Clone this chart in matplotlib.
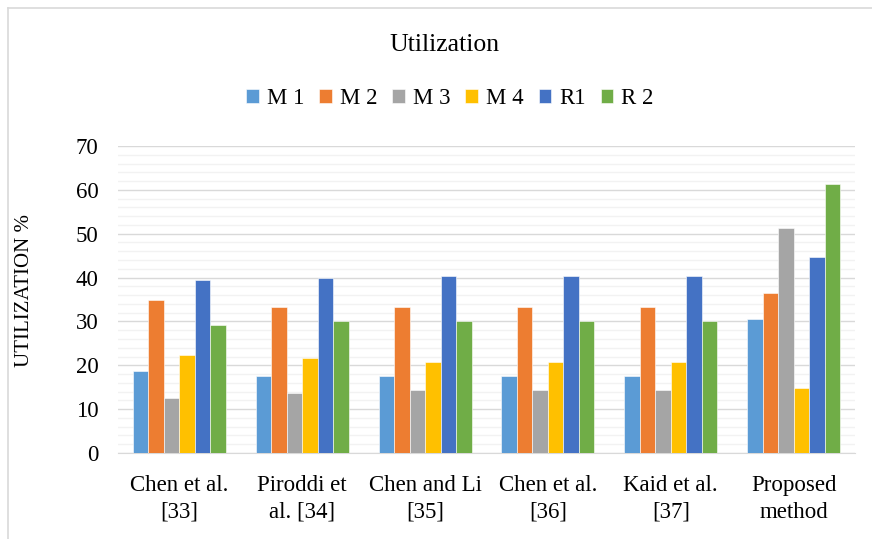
import numpy as np
import matplotlib.pyplot as plt
from matplotlib.lines import Line2D

plt.rcParams['font.family'] = ['Liberation Serif', 'DejaVu Serif']

categories = ['Chen et al.\n[33]', 'Piroddi et\nal. [34]', 'Chen and Li\n[35]',
              'Chen et al.\n[36]', 'Kaid et al.\n[37]', 'Proposed\nmethod']
series = ['M 1', 'M 2', 'M 3', 'M 4', 'R1', 'R 2']
m1 = [18.7, 17.6, 17.6, 17.6, 17.6, 30.5]
m2 = [34.9, 33.3, 33.3, 33.3, 33.3, 36.5]
m3 = [12.5, 13.7, 14.3, 14.3, 14.3, 51.2]
m4 = [22.4, 21.6, 20.8, 20.8, 20.8, 14.9]
r1 = [39.5, 39.9, 40.4, 40.4, 40.4, 44.6]
r2 = [29.2, 30.0, 30.0, 30.0, 30.0, 61.3]
values = [m1, m2, m3, m4, r1, r2]
colors = ['#5B9BD5', '#ED7D31', '#A5A5A5', '#FFC000', '#4472C4', '#70AD47']

fig = plt.figure(figsize=(8.72, 5.39), dpi=100)
ax = fig.add_axes([118 / 872, 1 - 453 / 539, 737 / 872, 307 / 539])

x = np.arange(len(categories))
w = 0.126
for i, (name, vals, c) in enumerate(zip(series, values, colors)):
    ax.bar(x + (i - 2.5) * w, vals, w, color=c, label=name,
           edgecolor='white', linewidth=0.4, zorder=3)

ax.set_xlim(-0.5, len(categories) - 0.5)
ax.set_ylim(0, 70)
ax.set_yticks(np.arange(0, 71, 10))
ax.set_yticks(np.arange(0, 71, 2), minor=True)
ax.grid(axis='y', which='major', color='#D9D9D9', linewidth=1.0, zorder=0)
ax.grid(axis='y', which='minor', color='#F2F2F2', linewidth=1.0, zorder=0)
ax.tick_params(axis='y', which='both', length=0, labelsize=16.5, pad=14)
ax.tick_params(axis='x', length=0, labelsize=16.5, pad=16)
ax.set_xticks(x)
ax.set_xticklabels(categories, linespacing=1.35)
for s in ['top', 'right', 'left']:
    ax.spines[s].set_visible(False)
ax.spines['bottom'].set_color('#D9D9D9')
ax.set_ylabel('UTILIZATION %', fontsize=15)
ax.yaxis.set_label_coords(-84 / 737, 0.53)

fig.text(444 / 872, 1 - 45 / 539, 'Utilization', ha='center', va='center', fontsize=18.5)
fig.legend(loc='center', bbox_to_anchor=(450 / 872, 1 - 99 / 539), ncol=6,
           frameon=False, fontsize=16.5, handlelength=0.55, handleheight=0.55,
           handletextpad=0.35, columnspacing=0.65)

fig.add_artist(Line2D([8 / 872, 8 / 872], [0, 1 - 8 / 539], color='#D9D9D9', linewidth=1.2))
fig.add_artist(Line2D([8 / 872, 1], [1 - 8 / 539, 1 - 8 / 539], color='#D9D9D9', linewidth=1.2))

fig.savefig('out.png', dpi=100)
